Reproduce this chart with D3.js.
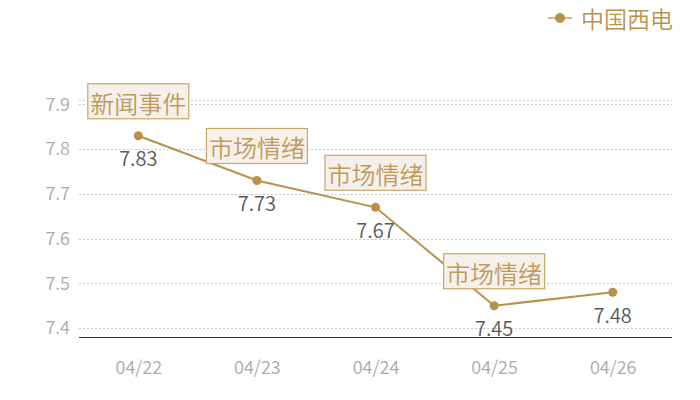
<!DOCTYPE html>
<html>
<head>
<meta charset="utf-8">
<script src="https://cdn.jsdelivr.net/npm/d3@7"></script>
<style>
  body { margin: 0; background: #fff; }
  svg { display: block; font-family: "Noto Sans CJK SC", "Noto Sans", sans-serif; font-weight: 350; }
</style>
</head>
<body>
<svg id="chart"></svg>
<script>
// Data
const dates = ['04/22', '04/23', '04/24', '04/25', '04/26'];
const prices = [7.83, 7.73, 7.67, 7.45, 7.48];
const notes = ['新闻事件', '市场情绪', '市场情绪', '市场情绪', null];
const yTicks = [7.4, 7.5, 7.6, 7.7, 7.8, 7.9];
const seriesName = '中国西电';

const width = 700, height = 400;
const margin = { top: 100, right: 28, bottom: 63, left: 79 };
const gold = '#b8914b';

const svg = d3.select('#chart')
  .attr('width', width)
  .attr('height', height);

const xScale = d3.scalePoint()
  .domain(dates)
  .range([margin.left, width - margin.right])
  .padding(0.5);

const yScale = d3.scaleLinear()
  .domain([7.38, 7.91])
  .range([height - margin.bottom, margin.top]);

// Dotted grid lines, plus one at the top of the value range
const gridValues = yTicks.concat([yScale.domain()[1]]);
svg.append('g')
  .selectAll('line')
  .data(gridValues)
  .join('line')
  .attr('x1', margin.left)
  .attr('x2', width - margin.right)
  .attr('y1', d => Math.round(yScale(d)) + 0.5)
  .attr('y2', d => Math.round(yScale(d)) + 0.5)
  .attr('stroke', '#c8c8c8')
  .attr('stroke-dasharray', '2,2');

// Y axis labels
const yAxis = d3.axisLeft(yScale)
  .tickValues(yTicks)
  .tickFormat(d3.format('.1f'))
  .tickSize(0)
  .tickPadding(9);

svg.append('g')
  .attr('transform', `translate(${margin.left},0)`)
  .call(yAxis)
  .call(g => g.select('.domain').remove())
  .call(g => g.selectAll('text')
    .attr('fill', '#aaaaaa')
    .attr('font-size', 18)
    .attr('font-family', '"Noto Sans CJK SC", sans-serif'));

// X axis
const xAxis = d3.axisBottom(xScale)
  .tickSize(0)
  .tickPadding(24)
  .tickSizeOuter(0);

svg.append('g')
  .attr('transform', `translate(0,${height - margin.bottom})`)
  .call(xAxis)
  .call(g => g.select('.domain')
    .attr('stroke', '#333')
    .attr('d', `M${margin.left},0.5H${width - margin.right}`))
  .call(g => g.selectAll('text')
    .attr('fill', '#aaaaaa')
    .attr('font-size', 18)
    .attr('font-family', '"Noto Sans CJK SC", sans-serif'));

const points = dates.map((d, i) => ({ date: d, value: prices[i], note: notes[i] }));

// Line
const line = d3.line()
  .x(d => xScale(d.date))
  .y(d => yScale(d.value));

svg.append('path')
  .datum(points)
  .attr('fill', 'none')
  .attr('stroke', gold)
  .attr('stroke-width', 2)
  .attr('d', line);

// Points
svg.append('g')
  .selectAll('circle')
  .data(points)
  .join('circle')
  .attr('cx', d => xScale(d.date))
  .attr('cy', d => yScale(d.value))
  .attr('r', 4.5)
  .attr('fill', gold);

// Value labels under each point
svg.append('g')
  .selectAll('text')
  .data(points)
  .join('text')
  .attr('x', d => xScale(d.date))
  .attr('y', d => yScale(d.value) + 22)
  .attr('text-anchor', 'middle')
  .attr('dominant-baseline', 'central')
  .attr('fill', '#595959')
  .attr('font-size', 20)
  .text(d => d.value.toFixed(2));

// Annotation boxes above the points
const boxW = 101, boxH = 35, boxGap = 17;
const notesG = svg.append('g')
  .selectAll('g')
  .data(points.filter(d => d.note))
  .join('g')
  .attr('transform', d => `translate(${xScale(d.date)},${yScale(d.value) - boxGap - boxH})`);

notesG.append('rect')
  .attr('x', -boxW / 2)
  .attr('y', 0)
  .attr('width', boxW)
  .attr('height', boxH)
  .attr('fill', '#f5f0e9')
  .attr('stroke', '#c9a66c')
  .attr('stroke-width', 1.2);

notesG.append('text')
  .attr('x', 0)
  .attr('y', boxH / 2 + 1)
  .attr('text-anchor', 'middle')
  .attr('dominant-baseline', 'central')
  .attr('fill', '#bf9a5c')
  .attr('font-size', 24)
  .text(d => d.note);

// Legend
const legend = svg.append('g').attr('transform', 'translate(548,18)');
legend.append('line')
  .attr('x1', 0).attr('x2', 24)
  .attr('y1', 0).attr('y2', 0)
  .attr('stroke', '#d2b585')
  .attr('stroke-width', 2);
legend.append('circle')
  .attr('cx', 12).attr('cy', 0)
  .attr('r', 5)
  .attr('fill', gold);
legend.append('text')
  .attr('x', 33)
  .attr('y', 0)
  .attr('dominant-baseline', 'central')
  .attr('fill', gold)
  .attr('font-size', 23)
  .text(seriesName);
</script>
</body>
</html>
